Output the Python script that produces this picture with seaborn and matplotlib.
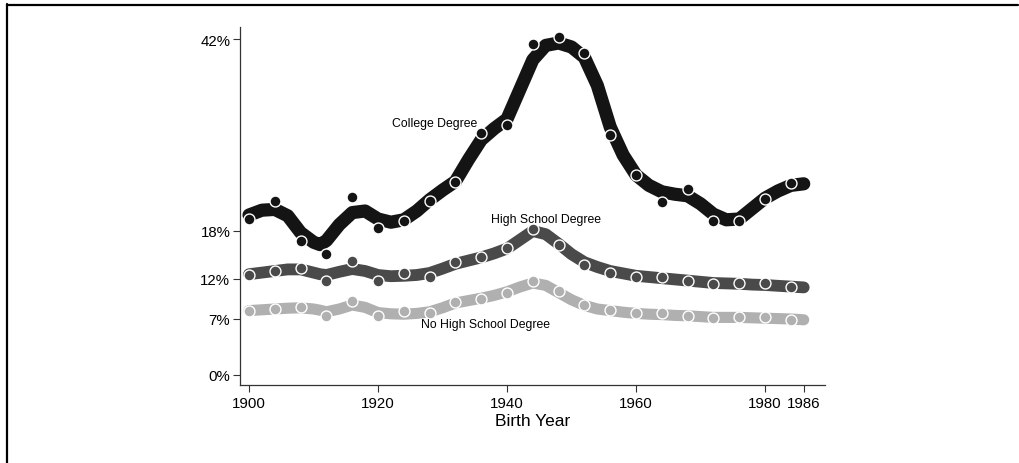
import matplotlib
matplotlib.use("Agg")
import matplotlib.pyplot as plt
from matplotlib.lines import Line2D
from matplotlib.ticker import FixedLocator, FixedFormatter
import seaborn as sns
import pandas as pd

# observed shares by birth cohort (every 4 years)
point_years = [1900, 1904, 1908, 1912, 1916, 1920, 1924, 1928, 1932, 1936, 1940,
               1944, 1948, 1952, 1956, 1960, 1964, 1968, 1972, 1976, 1980, 1984]
college_pts = [19.5, 21.8, 16.8, 15.1, 22.3, 18.4, 19.2, 21.8, 24.1, 30.3, 31.2,
               41.4, 42.2, 40.25, 30.0, 25.0, 21.6, 23.2, 19.3, 19.2, 22.0, 24.0]
hs_pts = [12.5, 13.0, 13.4, 11.7, 14.3, 11.8, 12.75, 12.3, 14.1, 14.8, 15.9,
          18.25, 16.25, 13.75, 12.8, 12.2, 12.2, 11.8, 11.4, 11.45, 11.45, 10.95]
nohs_pts = [7.95, 8.25, 8.55, 7.4, 9.2, 7.4, 8.0, 7.8, 9.1, 9.5, 10.2,
            11.8, 10.45, 8.75, 8.1, 7.7, 7.7, 7.4, 7.15, 7.2, 7.2, 6.9]

# smoothed trend
smooth_years = [1900, 1902, 1904, 1906, 1908, 1910, 1911, 1912, 1914, 1916, 1918,
                1920, 1922, 1924, 1926, 1928, 1930, 1932, 1934, 1936, 1938, 1940,
                1942, 1944, 1946, 1948, 1950, 1952, 1954, 1956, 1958, 1960, 1962,
                1964, 1966, 1968, 1970, 1972, 1974, 1976, 1978, 1980, 1982, 1984, 1986]
college_smooth = [20.0, 20.6, 20.7, 19.9, 17.8, 16.6, 16.3, 16.8, 18.8, 20.3, 20.5,
                  19.5, 19.1, 19.4, 20.5, 21.9, 23.1, 24.2, 26.9, 29.4, 30.8, 32.0,
                  35.7, 39.4, 41.2, 41.5, 41.0, 39.7, 36.2, 31.0, 27.5, 25.0, 23.7,
                  22.9, 22.6, 22.4, 21.4, 20.1, 19.4, 19.5, 20.8, 22.1, 23.0, 23.7, 23.9]
hs_smooth = [12.6, 12.8, 13.0, 13.2, 13.2, 12.8, 12.6, 12.5, 12.9, 13.25, 13.0,
             12.5, 12.35, 12.4, 12.5, 12.75, 13.3, 13.9, 14.3, 14.7, 15.2, 15.8,
             16.9, 18.0, 17.6, 16.4, 15.1, 14.1, 13.5, 13.0, 12.7, 12.4, 12.25,
             12.1, 11.95, 11.8, 11.65, 11.5, 11.45, 11.4, 11.3, 11.25, 11.15, 11.05, 10.95]
nohs_smooth = [8.05, 8.15, 8.25, 8.35, 8.4, 8.25, 8.1, 7.9, 8.25, 8.75, 8.45,
               7.8, 7.65, 7.6, 7.7, 7.9, 8.4, 9.0, 9.3, 9.6, 9.95, 10.4,
               11.0, 11.5, 11.2, 10.3, 9.4, 8.7, 8.25, 8.05, 7.85, 7.7, 7.6,
               7.55, 7.45, 7.4, 7.3, 7.2, 7.2, 7.2, 7.15, 7.1, 7.05, 7.0, 6.9]

x_ticks = [1900, 1920, 1940, 1960, 1980, 1986]
y_ticks = [0, 7, 12, 18, 42]
y_labels = ["0%", "7%", "12%", "18%", "42%"]

series = [
    ("No High School Degree", nohs_pts, nohs_smooth, "#b0b0b0", 8.0),
    ("High School Degree", hs_pts, hs_smooth, "#4a4a4a", 8.5),
    ("College Degree", college_pts, college_smooth, "#141414", 9.5),
]

sns.set_style("ticks")
plt.rcParams["font.family"] = ["Liberation Sans", "DejaVu Sans"]
plt.rcParams["text.color"] = "black"
plt.rcParams["axes.labelcolor"] = "black"
plt.rcParams["xtick.labelcolor"] = "black"
plt.rcParams["ytick.labelcolor"] = "black"

fig = plt.figure(figsize=(10.2, 4.64), dpi=100)
ax = fig.add_axes([240 / 1020, 1 - 386 / 464, 585 / 1020, 358 / 464])

for name, pts, smooth, col, lw in series:
    sm = pd.DataFrame({"year": smooth_years, "share": smooth})
    pt = pd.DataFrame({"year": point_years, "share": pts})
    sns.lineplot(data=sm, x="year", y="share", ax=ax, color=col, linewidth=lw,
                 solid_capstyle="round", solid_joinstyle="round", zorder=2)
    sns.scatterplot(data=pt, x="year", y="share", ax=ax, color=col, s=62,
                    edgecolor="white", linewidth=1.0, zorder=3)

# curve labels
ax.text(1922.2, 31.5, "College Degree", fontsize=8.8, va="center", ha="left")
ax.text(1937.5, 19.5, "High School Degree", fontsize=8.8, va="center", ha="left")
ax.text(1926.7, 6.4, "No High School Degree", fontsize=8.8, va="center", ha="left")

ax.set_xlim(1898.6, 1989.3)
ax.set_ylim(-1.25, 43.5)
ax.xaxis.set_major_locator(FixedLocator(x_ticks))
ax.yaxis.set_major_locator(FixedLocator(y_ticks))
ax.yaxis.set_major_formatter(FixedFormatter(y_labels))
ax.tick_params(axis="both", labelsize=10.8, length=5, width=0.8, color="#333333")
ax.tick_params(axis="y", pad=2)
ax.tick_params(axis="x", pad=3)
ax.set_xlabel("Birth Year", fontsize=12.5, labelpad=2)
ax.set_ylabel("")
sns.despine(ax=ax)
for s in ["left", "bottom"]:
    ax.spines[s].set_color("#333333")
    ax.spines[s].set_linewidth(0.9)

# frame edges visible in the original image
fig.add_artist(Line2D([7 / 1020, 7 / 1020], [0, 1 - 5 / 464], color="black", linewidth=1.6))
fig.add_artist(Line2D([7 / 1020, 1018 / 1020], [1 - 5.5 / 464, 1 - 5.5 / 464],
                      color="black", linewidth=1.6))

fig.savefig("out.png", dpi=100)
